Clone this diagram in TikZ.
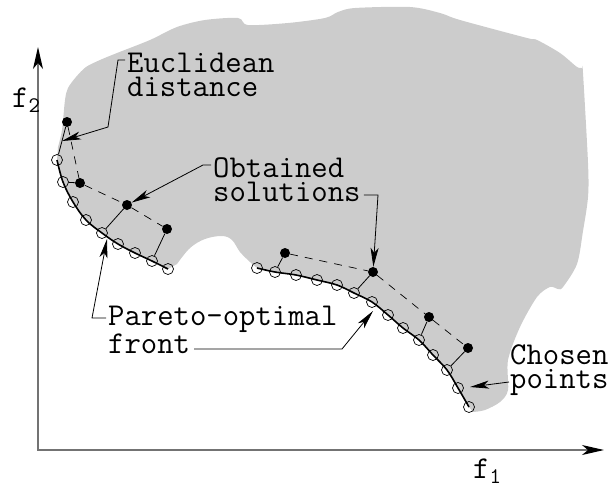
\documentclass[tikz,border=0pt]{standalone}
\usepackage{fontspec}
\usepackage{tikz}
\usetikzlibrary{arrows.meta, calc}

\begin{document}
\begin{tikzpicture}[
    x=1pt, y=-1pt,
    blob/.style={fill=black!20},
    axisline/.style={draw=black!55, line width=1.3pt, <->,
                     >={Stealth[length=22pt, width=10pt, inset=6pt, color=black]}},
    frontline/.style={line width=1.6pt},
    chosen/.style={circle, draw, line width=0.7pt, minimum size=11pt, inner sep=0pt},
    solution/.style={circle, fill, minimum size=10pt, inner sep=0pt},
    proj/.style={line width=0.8pt},
    gap/.style={line width=0.7pt, dash pattern=on 8pt off 7pt},
    note/.style={anchor=base west, inner sep=0pt, align=left,
                 font=\fontsize{31.8pt}{23.5pt}\selectfont\ttfamily},
    pointer/.style={->, >={Stealth[length=19pt, width=8pt, inset=5pt]}, line width=0.8pt}
]
    \useasboundingbox (0,0) rectangle (615,491);

    % Feasible region
    \fill[blob] plot[smooth, tension=0.6] coordinates {(57,160) (63,182) (73,202) (86,220) (102,233) (118,244) (135,253) (152,261) (168,269)}
        -- plot[smooth, tension=0.6] coordinates {(177,264) (190,248) (205,239) (222,236) (232,240) (240,252) (250,262)}
        -- plot[smooth, tension=0.6] coordinates {(257,268) (275,272) (296,275) (317,280) (337,285) (354,293) (372,302) (388,315) (403,328) (419,340) (433,355) (447,370) (458,388) (469,407)}
        -- plot[smooth, tension=0.5] coordinates {(473,412) (485,410) (500,402) (508,390) (508,360) (520,327) (537,297) (550,287) (558,289) (563,287) (577,264) (583,231) (588,197) (588,163) (583,73) (582,68) (577,67) (560,53) (537,40) (527,38) (460,20) (440,13) (410,7) (355,8) (338,12) (325,18) (288,23) (248,25) (238,18) (205,20) (177,27) (150,40) (117,53) (100,60) (86,67) (76,77) (68,88) (65,100) (62,130) (58,147)}
        -- cycle;

    % Axes
    \coordinate (origin) at (38,450);
    \coordinate (ytip) at (38,47);
    \coordinate (xtip) at (604,450);
    \draw[axisline] (ytip) -- (origin) -- (xtip);
    \node[note] (f2) at (12,107) {f\textsubscript{2}};
    \node[note] (f1) at (473,478) {f\textsubscript{1}};

    % Pareto-optimal front
    \draw[frontline] plot[smooth, tension=0.6] coordinates {(57,160) (63,182) (73,202) (86,220) (102,233) (118,244) (135,253) (152,261) (168,269)};
    \draw[frontline] plot[smooth, tension=0.6] coordinates {(257,268) (275,272) (296,275) (317,280) (337,285) (354,293) (372,302) (388,315) (403,328) (419,340) (433,355) (447,370) (458,388) (469,407)};

    % Chosen points on the front
    \foreach \x/\y [count=\i] in {57/160, 63/182, 73/202, 86/220, 102/233, 118/244, 135/253, 152/261, 168/269}
        \node[chosen] (l\i) at (\x,\y) {};
    \foreach \x/\y [count=\i] in {257/268, 275/272, 296/275, 317/280, 337/285, 354/293, 372/302, 388/315, 403/328, 419/340, 433/355, 447/370, 458/388, 469/407}
        \node[chosen] (r\i) at (\x,\y) {};

    % Obtained solutions
    \foreach \x/\y [count=\i] in {67/122, 80/183, 127/205, 167/229, 285/253, 373/272, 429/317, 468/348}
        \node[solution] (s\i) at (\x,\y) {};
    \draw[gap] (s1) -- (s2) -- (s3) -- (s4);
    \draw[gap] (s5) -- (s6) -- (s7) -- (s8);
    \foreach \a/\b in {s1/l1, s2/l2, s3/l5, s4/l8, s5/r2, s6/r6, s7/r10, s8/r12}
        \draw[proj] (\a) -- (\b);

    % Labels (placed at the baseline of their last line)
    \node[note] (euclid) at (127,96) {Euclidean\\distance};
    \node[note] (obtained) at (213,201) {Obtained\\solutions};
    \node[note] (pareto) at (108,353) {Pareto-optimal\\front};
    \node[note] (chosenlbl) at (510,388) {Chosen\\points};

    \coordinate (pf-left) at (107,239);
    \coordinate (pf-right) at (373,311);
    \coordinate (cp-tip) at (470,387);

    \draw[pointer] ([xshift=-2pt, yshift=36pt]euclid.base west) -- (118,60) -- (108,127) -- ($(s1)!0.5!(l1)$);
    \draw[pointer] ([xshift=-2pt, yshift=36pt]obtained.base west) -- (203,165) -- (s3);
    \draw[pointer] ([xshift=3pt, yshift=6pt]obtained.base east) -- (378,195) -- (s6);
    \draw[pointer] ([xshift=-2pt, yshift=35pt]pareto.base west) -- (92,318) -- (pf-left);
    \draw[pointer] ([xshift=86pt, yshift=4pt]pareto.base west) -- (342,349) -- (pf-right);
    \draw[pointer] ([xshift=-1pt, yshift=6pt]chosenlbl.base west) -- (cp-tip);
\end{tikzpicture}
\end{document}
